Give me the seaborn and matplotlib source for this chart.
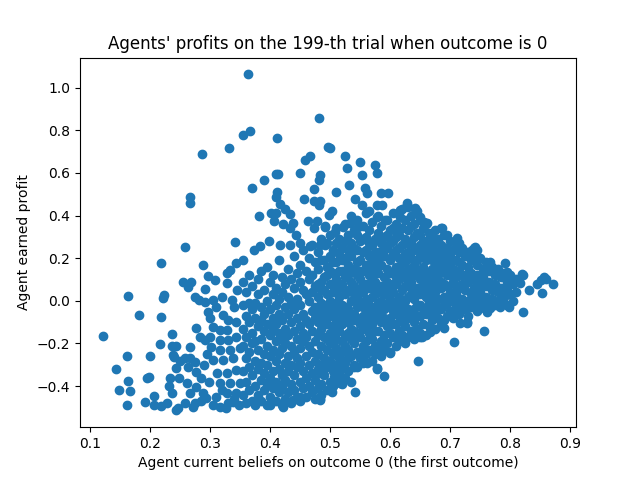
import matplotlib
matplotlib.use("Agg")
import matplotlib.pyplot as plt
import pandas as pd
import seaborn as sns

TITLE = "Agents' profits on the 199-th trial when outcome is 0"
XLABEL = "Agent current beliefs on outcome 0 (the first outcome)"
YLABEL = "Agent earned profit"
BLUE = "#1f77b4"

# dense core, read in thin vertical strips: belief -> profits of the agents in that strip
core_beliefs = [0.355, 0.360, 0.365, 0.370, 0.375, 0.380, 0.385, 0.390, 0.395, 0.400,
                0.405, 0.410, 0.415, 0.420, 0.425, 0.430, 0.435, 0.440, 0.445, 0.450,
                0.455, 0.460, 0.465, 0.470, 0.475, 0.480, 0.485, 0.490, 0.495, 0.500,
                0.505, 0.510, 0.515, 0.520, 0.525, 0.530, 0.535, 0.540, 0.545, 0.550,
                0.555, 0.560, 0.565, 0.570, 0.575, 0.580, 0.585, 0.590, 0.595, 0.600,
                0.605, 0.610, 0.615, 0.620, 0.625, 0.630, 0.635, 0.640, 0.645, 0.650,
                0.655, 0.660, 0.665, 0.670, 0.675, 0.680, 0.685, 0.690, 0.695, 0.700,
                0.705, 0.710, 0.715, 0.720, 0.725, 0.730, 0.735, 0.740, 0.745, 0.750,
                0.755, 0.760, 0.765, 0.770, 0.775, 0.780, 0.785, 0.790, 0.795, 0.800,
                0.805, 0.810]
core_profits = [
    [0.09, -0.02, -0.13, -0.21, -0.33, -0.44],
    [0.04, -0.07, -0.17, -0.27, -0.38, -0.48],
    [0.12, -0.01, -0.10, -0.24, -0.31, -0.42],
    [0.07, -0.04, -0.15, -0.20, -0.35, -0.47],
    [-0.01, -0.08, -0.19, -0.28, -0.40, -0.49],
    [0.10, 0.03, -0.12, -0.23, -0.32, -0.44],
    [0.14, -0.03, -0.09, -0.18, -0.29, -0.37, -0.47],
    [0.05, -0.06, -0.14, -0.25, -0.34, -0.42],
    [0.16, 0.00, -0.11, -0.21, -0.30, -0.39, -0.49],
    [0.09, -0.04, -0.16, -0.26, -0.36, -0.45],
    [0.12, 0.03, -0.08, -0.13, -0.23, -0.33, -0.41],
    [0.06, -0.02, -0.11, -0.19, -0.28, -0.38, -0.47],
    [0.19, 0.01, -0.06, -0.15, -0.25, -0.32, -0.43],
    [0.11, 0.04, -0.09, -0.18, -0.22, -0.35, -0.40, -0.49],
    [0.08, -0.03, -0.13, -0.20, -0.29, -0.37, -0.46],
    [0.15, 0.02, -0.06, -0.16, -0.26, -0.33, -0.43],
    [0.10, -0.01, -0.10, -0.21, -0.30, -0.39, -0.48],
    [0.21, 0.06, -0.04, -0.14, -0.24, -0.35, -0.42],
    [0.13, 0.01, -0.08, -0.18, -0.27, -0.31, -0.45],
    [0.17, 0.09, -0.02, -0.12, -0.22, -0.29, -0.38, -0.47],
    [0.24, 0.05, -0.06, -0.15, -0.19, -0.33, -0.41],
    [0.14, 0.03, -0.09, -0.17, -0.26, -0.36, -0.45],
    [0.20, 0.10, 0.00, -0.11, -0.21, -0.30, -0.40],
    [0.26, 0.12, 0.04, -0.05, -0.14, -0.24, -0.34, -0.43],
    [0.18, 0.07, -0.03, -0.08, -0.19, -0.28, -0.37, -0.46],
    [0.23, 0.15, 0.08, 0.02, -0.04, -0.10, -0.16, -0.25, -0.32, -0.41],
    [0.29, 0.19, 0.09, 0.05, -0.01, -0.06, -0.13, -0.21, -0.30, -0.39, -0.44],
    [0.19, 0.11, 0.05, -0.04, -0.09, -0.17, -0.27, -0.35],
    [0.27, 0.16, 0.12, 0.03, -0.02, -0.08, -0.11, -0.18, -0.23, -0.31, -0.42],
    [0.31, 0.21, 0.14, 0.08, 0.00, -0.06, -0.15, -0.20, -0.28, -0.38],
    [0.24, 0.18, 0.13, 0.04, -0.03, -0.07, -0.12, -0.19, -0.25, -0.33, -0.40],
    [0.34, 0.27, 0.18, 0.10, 0.06, -0.01, -0.09, -0.14, -0.18, -0.22, -0.30, -0.36],
    [0.29, 0.22, 0.14, 0.06, 0.02, -0.05, -0.10, -0.14, -0.27, -0.34],
    [0.25, 0.19, 0.14, 0.08, -0.02, -0.06, -0.11, -0.19, -0.24, -0.31, -0.39],
    [0.36, 0.28, 0.20, 0.11, 0.03, -0.03, -0.07, -0.16, -0.21, -0.29, -0.36],
    [0.31, 0.24, 0.17, 0.12, 0.05, -0.04, -0.10, -0.15, -0.23, -0.27, -0.33],
    [0.40, 0.27, 0.21, 0.15, 0.09, 0.00, -0.06, -0.13, -0.18, -0.26, -0.38],
    [0.33, 0.25, 0.15, 0.07, 0.03, -0.06, -0.09, -0.14, -0.20, -0.30],
    [0.38, 0.31, 0.24, 0.18, 0.12, 0.02, -0.03, -0.08, -0.15, -0.24, -0.31],
    [0.28, 0.19, 0.14, 0.10, 0.05, -0.01, -0.11, -0.17, -0.27],
    [0.35, 0.29, 0.23, 0.14, 0.08, 0.04, -0.03, -0.07, -0.13, -0.21, -0.29],
    [0.41, 0.30, 0.24, 0.17, 0.08, 0.01, -0.05, -0.09, -0.19, -0.25],
    [0.33, 0.27, 0.21, 0.12, 0.06, -0.02, -0.05, -0.11, -0.15, -0.23],
    [0.37, 0.26, 0.19, 0.15, 0.10, 0.06, 0.02, -0.07, -0.11, -0.18, -0.28],
    [0.29, 0.23, 0.19, 0.13, 0.09, 0.03, -0.03, -0.08, -0.14, -0.21, -0.25],
    [0.40, 0.32, 0.23, 0.17, 0.13, 0.04, -0.01, -0.06, -0.14, -0.23],
    [0.35, 0.27, 0.21, 0.17, 0.07, 0.00, -0.04, -0.10, -0.19, -0.26],
    [0.30, 0.25, 0.21, 0.11, 0.07, 0.03, -0.04, -0.08, -0.16, -0.22],
    [0.38, 0.31, 0.25, 0.15, 0.09, 0.05, -0.02, -0.12, -0.20],
    [0.33, 0.27, 0.19, 0.13, 0.06, 0.01, -0.03, -0.08, -0.15, -0.24],
    [0.41, 0.34, 0.28, 0.22, 0.13, 0.08, 0.04, -0.05, -0.11, -0.17],
    [0.36, 0.30, 0.24, 0.16, 0.11, 0.08, -0.01, -0.06, -0.11, -0.21],
    [0.31, 0.25, 0.20, 0.14, 0.10, 0.02, -0.03, -0.07, -0.14, -0.19],
    [0.43, 0.34, 0.26, 0.18, 0.14, 0.05, -0.03, -0.09, -0.16],
    [0.38, 0.29, 0.22, 0.18, 0.11, 0.07, 0.00, -0.05, -0.12, -0.20],
    [0.44, 0.33, 0.27, 0.23, 0.15, 0.07, 0.02, -0.04, -0.08, -0.17],
    [0.40, 0.35, 0.27, 0.20, 0.13, 0.09, 0.03, -0.06, -0.14],
    [0.36, 0.30, 0.24, 0.17, 0.12, 0.05, 0.01, -0.04, -0.10, -0.18],
    [0.42, 0.32, 0.25, 0.19, 0.14, 0.06, -0.02, -0.07, -0.13],
    [0.38, 0.31, 0.26, 0.21, 0.10, 0.03, -0.02, -0.07, -0.15],
    [0.34, 0.28, 0.24, 0.16, 0.12, 0.07, -0.04, -0.11],
    [0.36, 0.28, 0.22, 0.19, 0.11, 0.05, 0.02, -0.06, -0.16],
    [0.32, 0.26, 0.22, 0.13, 0.09, 0.05, -0.01, -0.05, -0.12],
    [0.30, 0.25, 0.19, 0.15, 0.08, 0.02, -0.03, -0.09],
    [0.33, 0.27, 0.20, 0.14, 0.10, 0.04, -0.02, -0.06, -0.13],
    [0.29, 0.23, 0.17, 0.12, 0.06, 0.01, -0.08],
    [0.26, 0.21, 0.17, 0.09, 0.06, -0.04, -0.11],
    [0.31, 0.25, 0.21, 0.14, 0.08, 0.02, -0.02, -0.09],
    [0.25, 0.18, 0.12, 0.07, -0.01, -0.07],
    [0.28, 0.22, 0.16, 0.12, 0.04, 0.00, -0.05],
    [0.24, 0.19, 0.15, 0.09, 0.03, 0.00, -0.08],
    [0.27, 0.19, 0.11, 0.07, 0.03, -0.03],
    [0.23, 0.18, 0.14, 0.06, -0.02, -0.06],
    [0.25, 0.17, 0.12, 0.08, 0.01, -0.03],
    [0.21, 0.12, 0.05, -0.04],
    [0.23, 0.16, 0.09, 0.00, -0.07],
    [0.19, 0.13, 0.03, -0.03],
    [0.21, 0.10, 0.06, -0.01],
    [0.17, 0.12, 0.02, -0.05],
    [0.20, 0.08, 0.04, -0.02],
    [0.15, 0.11, 0.00],
    [0.18, 0.07, 0.02, -0.04],
    [0.14, 0.09, -0.01],
    [0.16, 0.05, 0.01],
    [0.12, 0.08, -0.02],
    [0.15, 0.04, 0.00],
    [0.11, 0.06, -0.01],
    [0.13, 0.02],
    [0.09, 0.05, -0.02],
    [0.12, 0.03],
    [0.08, 0.00],
    [0.10, 0.04],
]

# sparse agents around the core (belief, profit)
outer_points = [
    (0.121, -0.167), (0.143, -0.32), (0.149, -0.419), (0.161, -0.258), (0.164, -0.375),
    (0.167, -0.422), (0.161, -0.489), (0.164, 0.023), (0.181, -0.067), (0.195, -0.364),
    (0.198, -0.355), (0.191, -0.474), (0.2, -0.259), (0.206, -0.445), (0.206, -0.489),
    (0.218, -0.494), (0.216, -0.204), (0.218, 0.176), (0.222, 0.015), (0.224, 0.025),
    (0.218, -0.078), (0.236, -0.156), (0.236, -0.212), (0.244, -0.212), (0.238, -0.254),
    (0.24, -0.265), (0.233, -0.364), (0.244, -0.317), (0.236, -0.431), (0.243, -0.514),
    (0.247, -0.505), (0.228, -0.48), (0.248, -0.36), (0.25, -0.28), (0.232, -0.40),
    (0.258, 0.254), (0.255, 0.09), (0.269, 0.09), (0.264, 0.066), (0.266, 0.488),
    (0.266, 0.457), (0.287, 0.689), (0.289, 0.168), (0.297, 0.117), (0.291, 0.054),
    (0.275, 0.017), (0.281, 0.004), (0.292, -0.004), (0.297, -0.051), (0.266, -0.216),
    (0.258, -0.27), (0.266, -0.27), (0.275, -0.286), (0.277, -0.128), (0.283, -0.168),
    (0.292, -0.184), (0.264, -0.309), (0.277, -0.333), (0.261, -0.387), (0.277, -0.403),
    (0.266, -0.434), (0.275, -0.481), (0.272, -0.497), (0.288, -0.434), (0.294, -0.458),
    (0.259, -0.48), (0.285, -0.36), (0.29, -0.3), (0.295, -0.25), (0.298, -0.38),
    (0.285, -0.47), (0.305, -0.489), (0.316, -0.497), (0.327, -0.505), (0.33, -0.481),
    (0.338, -0.474), (0.349, -0.489), (0.308, 0.098), (0.305, 0.004), (0.341, 0.275),
    (0.331, 0.717), (0.328, 0.129), (0.333, 0.145), (0.344, 0.176), (0.328, 0.082),
    (0.336, 0.004), (0.322, -0.067), (0.33, -0.09), (0.344, -0.098), (0.305, -0.121),
    (0.316, -0.137), (0.328, -0.137), (0.3, -0.168), (0.316, -0.184), (0.33, -0.184),
    (0.344, -0.168), (0.302, -0.216), (0.316, -0.231), (0.333, -0.231), (0.35, -0.223),
    (0.305, -0.278), (0.322, -0.278), (0.339, -0.27), (0.311, -0.34), (0.328, -0.34),
    (0.344, -0.325), (0.316, -0.387), (0.333, -0.387), (0.35, -0.387), (0.328, -0.434),
    (0.344, -0.434), (0.31, -0.03), (0.32, 0.02), (0.31, -0.45), (0.32, -0.42),
    (0.34, -0.46), (0.3, -0.08), (0.345, 0.05), (0.34, -0.03), (0.355, 0.19),
    (0.364, 1.062), (0.482, 0.859), (0.366, 0.796), (0.355, 0.78), (0.412, 0.766),
    (0.497, 0.72), (0.467, 0.681), (0.459, 0.661), (0.41, 0.594), (0.413, 0.594),
    (0.45, 0.598), (0.39, 0.567), (0.482, 0.567), (0.37, 0.527), (0.473, 0.525),
    (0.412, 0.51), (0.41, 0.488), (0.457, 0.478), (0.473, 0.468), (0.482, 0.449),
    (0.417, 0.456), (0.425, 0.432), (0.433, 0.409), (0.382, 0.398), (0.401, 0.411),
    (0.41, 0.414), (0.407, 0.375), (0.422, 0.361), (0.439, 0.364), (0.433, 0.341),
    (0.444, 0.309), (0.464, 0.375), (0.479, 0.375), (0.473, 0.341), (0.491, 0.352),
    (0.498, 0.403), (0.398, 0.281), (0.383, 0.258), (0.373, 0.239), (0.417, 0.262),
    (0.433, 0.262), (0.45, 0.27), (0.466, 0.258), (0.492, 0.262),
    (0.5, 0.716), (0.525, 0.677), (0.528, 0.622), (0.549, 0.653), (0.574, 0.638),
    (0.578, 0.599), (0.553, 0.591), (0.531, 0.544), (0.558, 0.529), (0.561, 0.505),
    (0.51, 0.51), (0.585, 0.505), (0.597, 0.505), (0.541, 0.477), (0.553, 0.45),
    (0.578, 0.45), (0.586, 0.45), (0.564, 0.419), (0.503, 0.419), (0.483, 0.466),
    (0.483, 0.591), (0.628, 0.45), (0.642, 0.43), (0.617, 0.426), (0.617, 0.395),
    (0.65, 0.395), (0.661, 0.364), (0.684, 0.341), (0.695, 0.309), (0.712, 0.294),
    (0.742, 0.254), (0.578, 0.395), (0.592, 0.38), (0.611, 0.317), (0.533, 0.364),
    (0.547, 0.348), (0.522, 0.348), (0.508, 0.325), (0.483, 0.262), (0.492, 0.348),
    (0.628, 0.458), (0.642, 0.435), (0.656, 0.372), (0.686, 0.341), (0.714, 0.27),
    (0.737, 0.239), (0.745, 0.239), (0.767, 0.184), (0.792, 0.176), (0.795, 0.137),
    (0.821, 0.121), (0.817, 0.082), (0.831, 0.051), (0.851, 0.098), (0.739, 0.247),
    (0.856, 0.11), (0.872, 0.079), (0.853, 0.038), (0.82, 0.125), (0.86, 0.1),
    (0.845, 0.08),
    (0.542, -0.427), (0.589, -0.353), (0.647, -0.281), (0.707, -0.192), (0.756, -0.142),
    (0.821, -0.051), (0.503, -0.427), (0.506, -0.356), (0.539, -0.309), (0.578, -0.317),
    (0.561, -0.294), (0.584, -0.246), (0.6, -0.246), (0.622, -0.184), (0.65, -0.168),
    (0.689, -0.129), (0.728, -0.098), (0.712, -0.051), (0.762, -0.051), (0.798, -0.028),
    (0.706, -0.004), (0.483, -0.466), (0.728, -0.103), (0.717, -0.106), (0.653, -0.171),
    (0.667, -0.145), (0.639, -0.16), (0.767, -0.035), (0.783, -0.028), (0.739, -0.028),
    (0.75, -0.035), (0.483, -0.462), (0.578, -0.322), (0.553, -0.25), (0.583, -0.239),
    (0.517, -0.387), (0.45, -0.45), (0.439, -0.466), (0.422, -0.497), (0.4, -0.489),
    (0.483, -0.337),
]

beliefs = []
profits = []
for b, col in zip(core_beliefs, core_profits):
    beliefs += [b] * len(col)
    profits += col
beliefs += [p[0] for p in outer_points]
profits += [p[1] for p in outer_points]
df = pd.DataFrame({"belief": beliefs, "profit": profits})

fig, ax = plt.subplots(figsize=(6.4, 4.8), dpi=100)
sns.scatterplot(data=df, x="belief", y="profit", ax=ax, color=BLUE,
                s=36, edgecolor="face", linewidth=1.0)
ax.set_title(TITLE)
ax.set_xlabel(XLABEL)
ax.set_ylabel(YLABEL)
fig.savefig("out.png", dpi=100)
